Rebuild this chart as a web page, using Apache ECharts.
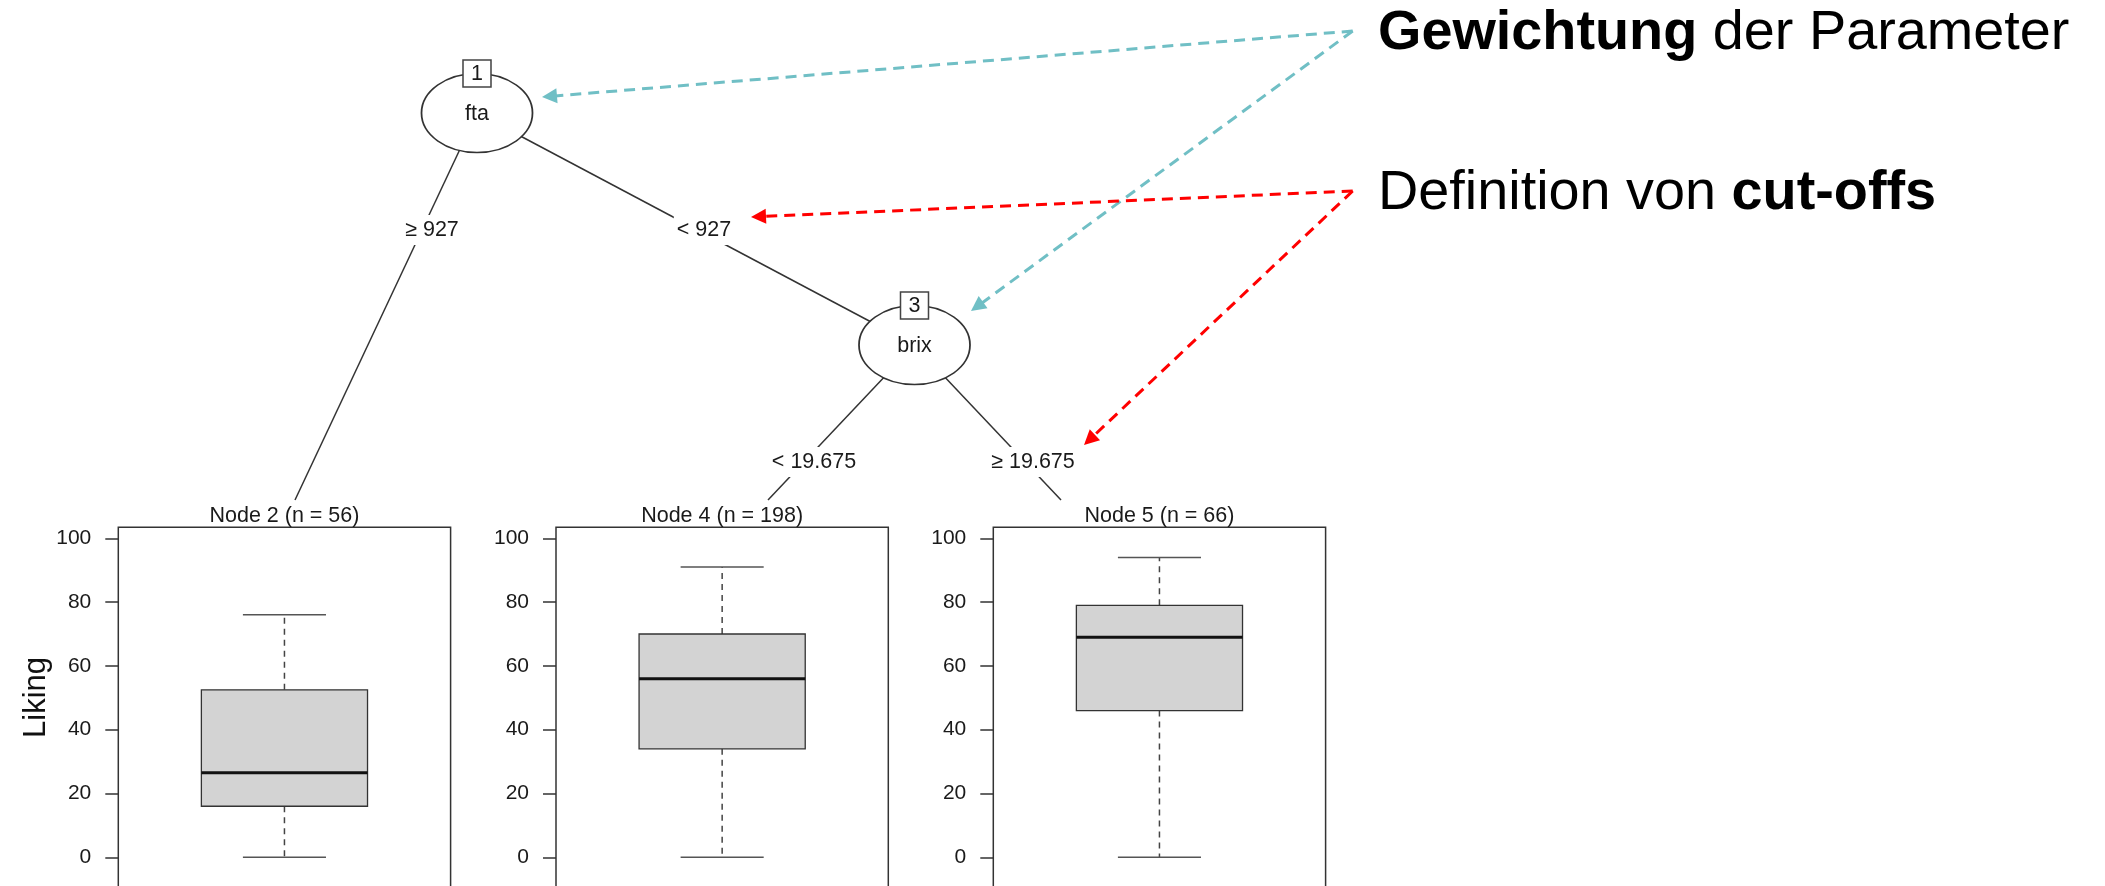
<!DOCTYPE html>
<html>
<head>
<meta charset="utf-8">
<script src="https://cdn.jsdelivr.net/npm/echarts@6/dist/echarts.min.js"></script>
<style>
html,body{margin:0;padding:0;background:#ffffff;}
#chart{width:2105px;height:886px;}
</style>
</head>
<body>
<div id="chart"></div>
<script>
// ===================== DATA =====================
// terminal nodes (boxplot panels)
const terminalIds = [2, 4, 5];
const terminalN = [56, 198, 66];
const whiskerLow = [0, 0, 0];
const quartile1 = [16, 34, 46];
const medians = [26.5, 56, 69];
const quartile3 = [52.5, 70, 79];
const whiskerHigh = [76, 91, 94];
// y axis
const yTickValues = [0, 20, 40, 60, 80, 100];
const yAxisTitle = 'Liking';
// inner (split) nodes
const innerIds = [1, 3];
const innerVars = ['fta', 'brix'];
// edge labels (cut-offs): fta->2, fta->3, brix->4, brix->5
const edgeLabels = ['\u2265 927', '< 927', '< 19.675', '\u2265 19.675'];
// annotation texts: [text, bold?] parts in order
const note1Parts = [['Gewichtung', true], [' der Parameter', false]];
const note2Parts = [['Definition von ', false], ['cut-offs', true]];

// ===================== LAYOUT (pixels) =====================
const L = {
  panelLeft: [118.3, 556, 993.3],
  panelWidth: 332.3,
  panelTop: 527.3,
  panelHeight: 361.9,
  yMin: -10,
  yMax: 103.45,
  innerPos: [[477, 113], [914.5, 345]],
  ellipseSize: [111, 79],
  idBoxSize: [28, 27],
  terminalAnchor: [[295, 500], [768, 500], [1061, 500]],
  edgeLabelPos: [[432, 230], [704, 230], [814, 462], [1033, 462]],
  titleY: 516,
  likingPos: [36, 697.5],
  noteX: 1378,
  noteY: [34, 194],
  tealOrigin: [1352.7, 31],
  tealTips: [[542, 97], [971, 311]],
  redOrigin: [1352.7, 191],
  redTips: [[751, 217], [1084, 445]],
  arrowSize: 15
};
const FONT = 'Liberation Sans';
const TEAL = '#70bfc5';
const RED = '#ff0000';
const INK = '#1a1a1a';
const TREE_FS = 21.5;
const NOTE_FS = 55.8;

// ===================== OPTION BUILD =====================
const grids = [], xAxes = [], yAxes = [], series = [];

terminalIds.forEach(function (id, k) {
  grids.push({
    left: L.panelLeft[k], top: L.panelTop, width: L.panelWidth, height: L.panelHeight,
    show: true, borderColor: '#333', borderWidth: 1.5, backgroundColor: 'transparent',
    containLabel: false, outerBoundsMode: 'none'
  });
  xAxes.push({ type: 'category', gridIndex: k, data: ['Node ' + id], show: false });
  yAxes.push({
    type: 'value', gridIndex: k, min: L.yMin, max: L.yMax,
    axisLine: { show: false }, splitLine: { show: false },
    axisTick: { show: true, length: 13, customValues: yTickValues, lineStyle: { color: '#333', width: 1.5 } },
    axisLabel: { show: true, customValues: yTickValues, margin: 27, fontSize: 21, color: INK, fontFamily: FONT }
  });
  series.push({
    type: 'custom', xAxisIndex: k, yAxisIndex: k, silent: true, animation: false,
    encode: { x: 0, y: [1, 2, 3, 4, 5] },
    data: [[0, whiskerLow[k], quartile1[k], medians[k], quartile3[k], whiskerHigh[k]]],
    renderItem: function (params, api) {
      const i = api.value(0);
      const lo = api.coord([i, api.value(1)]);
      const a = api.coord([i, api.value(2)]);
      const m = api.coord([i, api.value(3)]);
      const b = api.coord([i, api.value(4)]);
      const hi = api.coord([i, api.value(5)]);
      const band = api.size([1, 0])[0];
      const cx = m[0], hb = band / 4, hc = band / 8;
      const dashStyle = { stroke: '#444', lineWidth: 1.5, lineDash: [6, 5] };
      const capStyle = { stroke: '#555', lineWidth: 1.5 };
      return {
        type: 'group', children: [
          { type: 'line', shape: { x1: cx, y1: a[1], x2: cx, y2: lo[1] }, style: dashStyle },
          { type: 'line', shape: { x1: cx, y1: b[1], x2: cx, y2: hi[1] }, style: dashStyle },
          { type: 'line', shape: { x1: cx - hc, y1: lo[1], x2: cx + hc, y2: lo[1] }, style: capStyle },
          { type: 'line', shape: { x1: cx - hc, y1: hi[1], x2: cx + hc, y2: hi[1] }, style: capStyle },
          { type: 'rect', shape: { x: cx - hb, y: b[1], width: 2 * hb, height: a[1] - b[1] },
            style: { fill: '#d3d3d3', stroke: '#333', lineWidth: 1.3 } },
          { type: 'line', shape: { x1: cx - hb, y1: m[1], x2: cx + hb, y2: m[1] },
            style: { stroke: '#111', lineWidth: 3 } }
        ]
      };
    }
  });
});

// layout grid covering the whole canvas (pixel space)
const LG = grids.length;
grids.push({ left: 0, top: 0, width: 2105, height: 886, show: false, containLabel: false, outerBoundsMode: 'none' });
xAxes.push({ type: 'value', gridIndex: LG, min: 0, max: 2105, show: false });
yAxes.push({ type: 'value', gridIndex: LG, min: 0, max: 886, inverse: true, show: false });

function layoutSeries(o) {
  return Object.assign({ xAxisIndex: LG, yAxisIndex: LG, silent: true, animation: false, emphasis: { disabled: true } }, o);
}
function textPoint(pos, name) { return { value: pos, name: name }; }
const hiddenItem = { color: 'rgba(0,0,0,0)', opacity: 1 };

// edges
const edgeCoords = [
  [L.innerPos[0], L.terminalAnchor[0]],
  [L.innerPos[0], L.innerPos[1]],
  [L.innerPos[1], L.terminalAnchor[1]],
  [L.innerPos[1], L.terminalAnchor[2]]
];
series.push(layoutSeries({
  type: 'lines', coordinateSystem: 'cartesian2d', z: 1,
  lineStyle: { color: '#333', width: 1.5, opacity: 1 },
  data: edgeCoords.map(function (c) { return { coords: c }; })
}));

// ellipses for inner nodes
series.push(layoutSeries({
  type: 'scatter', z: 2,
  symbol: 'path://M0 50A50 50 0 1 1 100 50A50 50 0 1 1 0 50Z',
  symbolSize: L.ellipseSize,
  itemStyle: { color: '#fff', borderColor: '#333', borderWidth: 1.5, opacity: 1 },
  label: { show: true, position: 'inside', formatter: '{b}', fontSize: TREE_FS, color: INK, fontFamily: FONT, offset: [0, 1.5] },
  data: innerVars.map(function (v, i) { return textPoint(L.innerPos[i], v); })
}));

// id boxes
series.push(layoutSeries({
  type: 'scatter', z: 3,
  symbol: 'rect', symbolSize: L.idBoxSize,
  itemStyle: { color: '#fff', borderColor: '#444', borderWidth: 1.5, opacity: 1 },
  label: { show: true, position: 'inside', formatter: '{b}', fontSize: TREE_FS, color: INK, fontFamily: FONT, offset: [0, 1] },
  data: innerIds.map(function (id, i) {
    return textPoint([L.innerPos[i][0], L.innerPos[i][1] - L.ellipseSize[1] / 2], String(id));
  })
}));

// edge labels
series.push(layoutSeries({
  type: 'scatter', z: 4, symbolSize: 0, itemStyle: hiddenItem,
  label: { show: true, position: 'inside', formatter: '{b}', fontSize: TREE_FS, color: INK, fontFamily: FONT,
    backgroundColor: '#fff', padding: [4, 3] },
  data: edgeLabels.map(function (t, i) { return textPoint(L.edgeLabelPos[i], t); })
}));

// terminal titles
series.push(layoutSeries({
  type: 'scatter', z: 4, symbolSize: 0, itemStyle: hiddenItem,
  label: { show: true, position: 'inside', formatter: '{b}', fontSize: TREE_FS, color: INK, fontFamily: FONT },
  data: terminalIds.map(function (id, k) {
    return textPoint([L.panelLeft[k] + L.panelWidth / 2, L.titleY], 'Node ' + id + ' (n = ' + terminalN[k] + ')');
  })
}));

// y axis title
series.push(layoutSeries({
  type: 'scatter', z: 4, symbolSize: 0, itemStyle: hiddenItem,
  label: { show: true, position: 'inside', formatter: '{b}', fontSize: 31, color: '#111', fontFamily: FONT, rotate: 90 },
  data: [textPoint(L.likingPos, yAxisTitle)]
}));

// annotation notes
function richOf(parts) {
  return parts.map(function (p) { return '{' + (p[1] ? 'b' : 'r') + '|' + p[0] + '}'; }).join('');
}
series.push(layoutSeries({
  type: 'scatter', z: 6, symbolSize: 0, itemStyle: hiddenItem,
  label: {
    show: true, position: 'inside', align: 'left', verticalAlign: 'middle',
    formatter: function (p) { return p.name; },
    rich: {
      b: { fontSize: NOTE_FS, fontWeight: 'bold', color: '#000', fontFamily: FONT, lineHeight: 60 },
      r: { fontSize: NOTE_FS, fontWeight: 'normal', color: '#000', fontFamily: FONT, lineHeight: 60 }
    }
  },
  data: [
    textPoint([L.noteX, L.noteY[0]], richOf(note1Parts)),
    textPoint([L.noteX, L.noteY[1]], richOf(note2Parts))
  ]
}));

// dashed arrows
function arrowCoords(origin, tip) {
  const dx = tip[0] - origin[0], dy = tip[1] - origin[1];
  const len = Math.sqrt(dx * dx + dy * dy);
  const back = L.arrowSize / 2;
  return { coords: [origin, [tip[0] - dx / len * back, tip[1] - dy / len * back]] };
}
[[L.tealOrigin, L.tealTips, TEAL], [L.redOrigin, L.redTips, RED]].forEach(function (g) {
  series.push(layoutSeries({
    type: 'lines', coordinateSystem: 'cartesian2d', z: 7,
    symbol: ['none', 'triangle'], symbolSize: L.arrowSize,
    lineStyle: { color: g[2], width: 3, type: [11, 7], opacity: 1 },
    data: g[1].map(function (t) { return arrowCoords(g[0], t); })
  }));
});

const option = {
  animation: false,
  backgroundColor: '#ffffff',
  textStyle: { fontFamily: FONT },
  grid: grids,
  xAxis: xAxes,
  yAxis: yAxes,
  series: series
};

const chart = echarts.init(document.getElementById('chart'), null, { renderer: 'canvas', width: 2105, height: 886 });
chart.setOption(option);
</script>
</body>
</html>
